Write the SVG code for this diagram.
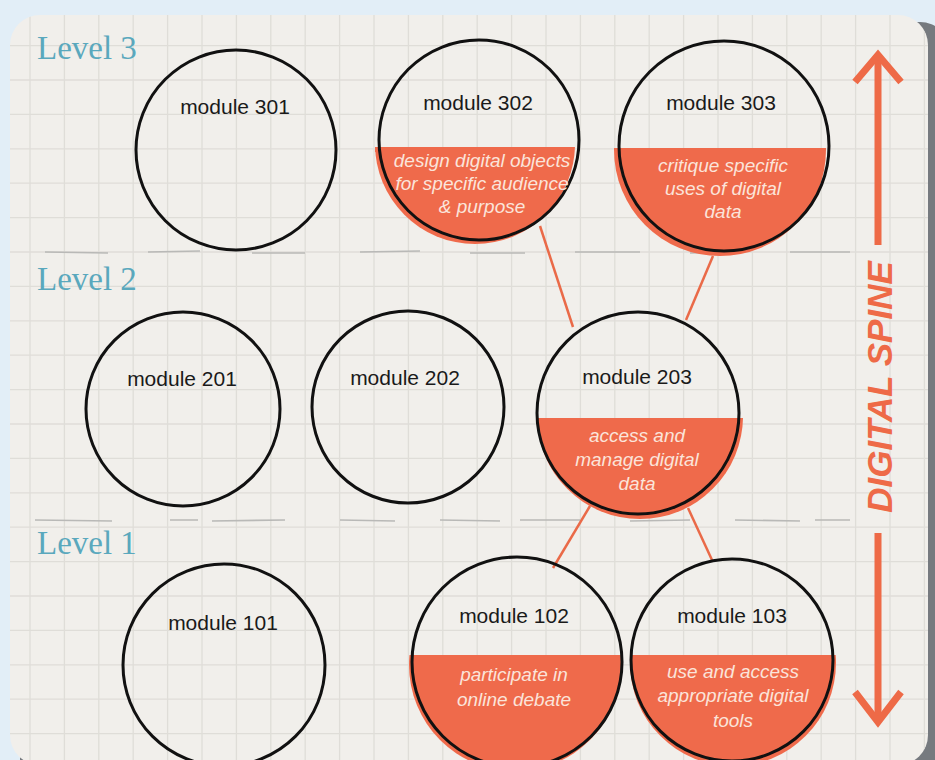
<svg xmlns="http://www.w3.org/2000/svg" width="935" height="760" viewBox="0 0 935 760">
<defs>
<style>
.lvl{font-family:"Liberation Serif","DejaVu Serif",serif;font-size:33px;fill:#5aa8bd}
.mod{font-family:"Liberation Sans",Arial,sans-serif;font-size:21px;fill:#1a1a1a;text-anchor:middle}
.desc{font-family:"Liberation Sans",Arial,sans-serif;font-size:19px;font-style:italic;fill:#fbe4da;text-anchor:middle}
.ring{fill:none;stroke:#111;stroke-width:3}
.fillc{fill:#ef6a4b}
.conn{stroke:#ea6a48;stroke-width:2.5;fill:none}
.grid{stroke:#dfddd8;stroke-width:1.3}
.sep{stroke:#b9b9b7;stroke-width:1.6;fill:none}
.arr{stroke:#ee6a47;stroke-width:7;fill:none;stroke-linecap:butt}
</style>
<clipPath id="panel"><rect x="10" y="15" width="918" height="750" rx="30"/></clipPath>
<clipPath id="c302"><rect x="360" y="147" width="240" height="120"/></clipPath>
<clipPath id="c303"><rect x="600" y="148" width="240" height="120"/></clipPath>
<clipPath id="c203"><rect x="520" y="418" width="240" height="120"/></clipPath>
<clipPath id="c102"><rect x="400" y="655" width="240" height="120"/></clipPath>
<clipPath id="c103"><rect x="620" y="655" width="240" height="120"/></clipPath>
</defs>
<rect width="935" height="760" fill="#e2eef7"/>
<rect x="20" y="22" width="930" height="800" rx="30" fill="#767a7f"/>
<rect x="10" y="15" width="918" height="750" rx="30" fill="#f1efeb"/>
<g clip-path="url(#panel)">
<g class="grid">
<line x1="30" y1="0" x2="30" y2="760"/><line x1="64.4" y1="0" x2="64.4" y2="760"/><line x1="98.8" y1="0" x2="98.8" y2="760"/><line x1="133.2" y1="0" x2="133.2" y2="760"/><line x1="167.6" y1="0" x2="167.6" y2="760"/><line x1="202" y1="0" x2="202" y2="760"/><line x1="236.4" y1="0" x2="236.4" y2="760"/><line x1="270.8" y1="0" x2="270.8" y2="760"/><line x1="305.2" y1="0" x2="305.2" y2="760"/><line x1="339.6" y1="0" x2="339.6" y2="760"/><line x1="374" y1="0" x2="374" y2="760"/><line x1="408.4" y1="0" x2="408.4" y2="760"/><line x1="442.8" y1="0" x2="442.8" y2="760"/><line x1="477.2" y1="0" x2="477.2" y2="760"/><line x1="511.6" y1="0" x2="511.6" y2="760"/><line x1="546" y1="0" x2="546" y2="760"/><line x1="580.4" y1="0" x2="580.4" y2="760"/><line x1="614.8" y1="0" x2="614.8" y2="760"/><line x1="649.2" y1="0" x2="649.2" y2="760"/><line x1="683.6" y1="0" x2="683.6" y2="760"/><line x1="718" y1="0" x2="718" y2="760"/><line x1="752.4" y1="0" x2="752.4" y2="760"/><line x1="786.8" y1="0" x2="786.8" y2="760"/><line x1="821.2" y1="0" x2="821.2" y2="760"/><line x1="855.6" y1="0" x2="855.6" y2="760"/><line x1="890" y1="0" x2="890" y2="760"/><line x1="924.4" y1="0" x2="924.4" y2="760"/>
<line x1="0" y1="45.6" x2="935" y2="45.6"/><line x1="0" y1="80" x2="935" y2="80"/><line x1="0" y1="114.4" x2="935" y2="114.4"/><line x1="0" y1="148.8" x2="935" y2="148.8"/><line x1="0" y1="183.2" x2="935" y2="183.2"/><line x1="0" y1="217.6" x2="935" y2="217.6"/><line x1="0" y1="252" x2="935" y2="252"/><line x1="0" y1="286.4" x2="935" y2="286.4"/><line x1="0" y1="320.8" x2="935" y2="320.8"/><line x1="0" y1="355.2" x2="935" y2="355.2"/><line x1="0" y1="389.6" x2="935" y2="389.6"/><line x1="0" y1="424" x2="935" y2="424"/><line x1="0" y1="458.4" x2="935" y2="458.4"/><line x1="0" y1="492.8" x2="935" y2="492.8"/><line x1="0" y1="527.2" x2="935" y2="527.2"/><line x1="0" y1="561.6" x2="935" y2="561.6"/><line x1="0" y1="596" x2="935" y2="596"/><line x1="0" y1="630.4" x2="935" y2="630.4"/><line x1="0" y1="664.8" x2="935" y2="664.8"/><line x1="0" y1="699.2" x2="935" y2="699.2"/><line x1="0" y1="733.6" x2="935" y2="733.6"/>
</g>
<path class="sep" d="M45 252 L108 253 M148 252 L200 251 M252 253 L305 253 M360 252 L420 251 M470 253 L525 253 M575 252 L640 252 M690 253 L745 252 M790 252 L850 252"/>
<path class="sep" d="M35 520 L112 521 M170 520 L198 520 M212 521 L285 520 M340 520 L395 521 M440 520 L500 521 M520 520 L580 520 M630 521 L690 520 M735 520 L800 521 M815 520 L850 520"/>
</g>
<text class="lvl" x="37" y="59">Level 3</text>
<text class="lvl" x="37" y="290">Level 2</text>
<text class="lvl" x="37" y="554">Level 1</text>
<g id="connectors">
<line class="conn" x1="540" y1="226" x2="573" y2="327"/>
<line class="conn" x1="713" y1="256" x2="686" y2="320"/>
<line class="conn" x1="590" y1="506" x2="553" y2="568"/>
<line class="conn" x1="688" y1="508" x2="712" y2="560"/>
</g>
<g id="module301">
<circle class="ring" cx="236" cy="150" r="100"/>
<text class="mod" x="235" y="114">module 301</text>
</g>
<g id="module302">
<circle class="fillc" cx="475" cy="144" r="100" clip-path="url(#c302)"/>
<rect class="fillc" x="375" y="147" width="30" height="5"/>
<circle class="ring" cx="479" cy="140" r="100"/>
<text class="mod" x="478" y="110">module 302</text>
<text class="desc" x="482" y="167">design digital objects</text>
<text class="desc" x="482" y="190">for specific audience</text>
<text class="desc" x="482" y="213">&amp; purpose</text>
</g>
<g id="module303">
<circle class="fillc" cx="720" cy="150" r="106" clip-path="url(#c303)"/>
<circle class="ring" cx="724" cy="146" r="105"/>
<text class="mod" x="721" y="110">module 303</text>
<text class="desc" x="723" y="172">critique specific</text>
<text class="desc" x="723" y="195">uses of digital</text>
<text class="desc" x="723" y="218">data</text>
</g>
<g id="module201">
<circle class="ring" cx="183" cy="409" r="97"/>
<text class="mod" x="182" y="386">module 201</text>
</g>
<g id="module202">
<circle class="ring" cx="408" cy="407" r="96"/>
<text class="mod" x="405" y="385">module 202</text>
</g>
<g id="module203">
<circle class="fillc" cx="640" cy="416" r="103" clip-path="url(#c203)"/>
<circle class="ring" cx="638" cy="413" r="101"/>
<text class="mod" x="637" y="384">module 203</text>
<text class="desc" x="637" y="442">access and</text>
<text class="desc" x="637" y="466">manage digital</text>
<text class="desc" x="637" y="490">data</text>
</g>
<g id="module101">
<circle class="ring" cx="224" cy="665" r="101"/>
<text class="mod" x="223" y="630">module 101</text>
</g>
<g id="module102">
<circle class="fillc" cx="515" cy="665" r="106" clip-path="url(#c102)"/>
<circle class="ring" cx="517" cy="662" r="105"/>
<text class="mod" x="514" y="623">module 102</text>
<text class="desc" x="514" y="681">participate in</text>
<text class="desc" x="514" y="706">online debate</text>
</g>
<g id="module103">
<circle class="fillc" cx="733" cy="663" r="103" clip-path="url(#c103)"/>
<circle class="ring" cx="732" cy="660" r="101"/>
<text class="mod" x="732" y="623">module 103</text>
<text class="desc" x="733" y="678">use and access</text>
<text class="desc" x="733" y="702">appropriate digital</text>
<text class="desc" x="733" y="727">tools</text>
</g>
<g id="spine">
<line class="arr" x1="878" y1="245" x2="878" y2="58"/>
<polyline class="arr" points="855,82 878,55 901,82"/>
<line class="arr" x1="878" y1="533" x2="878" y2="722"/>
<polyline class="arr" points="855,692 878,722 901,692"/>
<text transform="translate(892,387) rotate(-90)" text-anchor="middle" font-family="Liberation Sans, Arial, sans-serif" font-size="35" font-weight="bold" font-style="italic" fill="#ee6a47">DIGITAL SPINE</text>
</g>
</svg>
